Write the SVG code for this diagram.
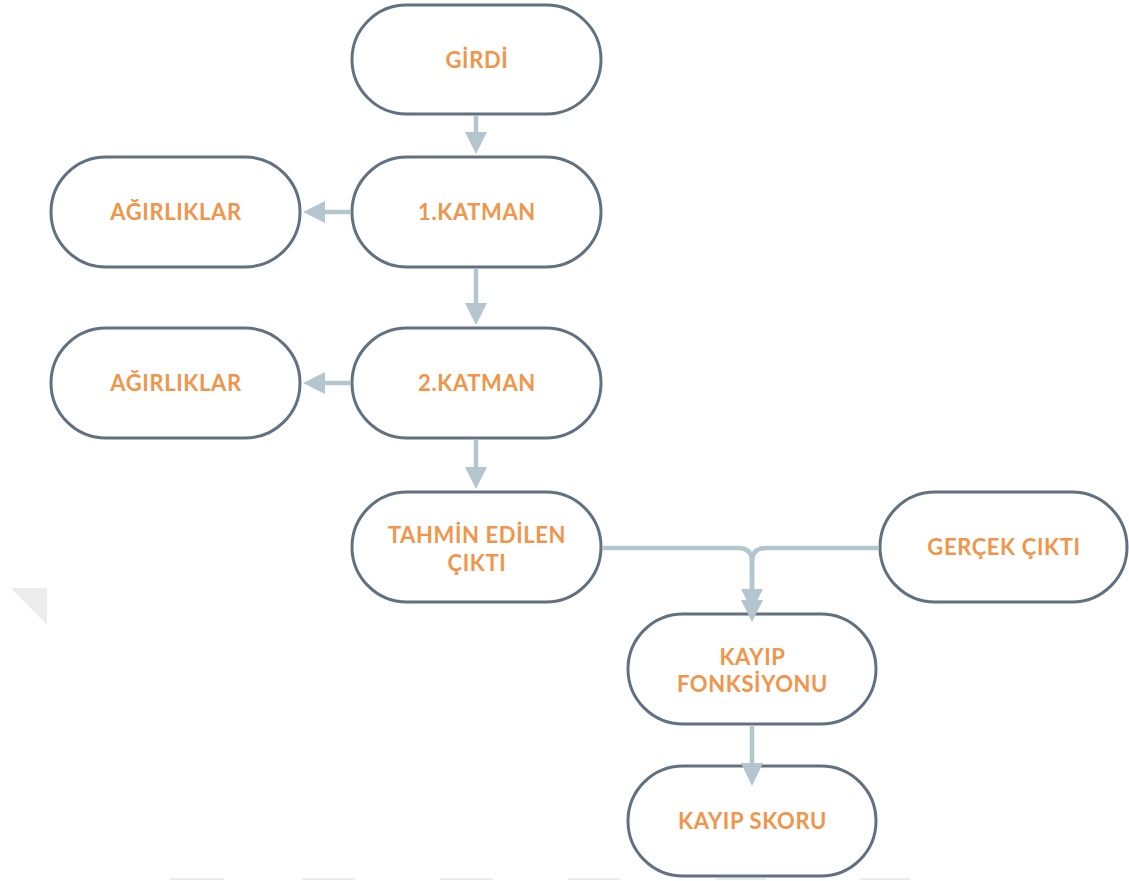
<svg xmlns="http://www.w3.org/2000/svg" width="1129" height="881" viewBox="0 0 1129 881">
  <style>
    .node rect { fill: #ffffff; stroke: #62717f; stroke-width: 3; }
    .node text { font-family: Lato, "Liberation Sans", sans-serif; font-weight: bold; font-size: 22px; letter-spacing: 0.6px; fill: #f0954a; text-anchor: middle; }
    .conn { fill: none; stroke: #b3c6cd; stroke-width: 4.5; }
    .head { fill: #b3c6cd; }
  </style>
  <rect width="1129" height="881" fill="#ffffff"/>
  <!-- faint page marks -->
  <polygon points="11,588 47,588 47,625" fill="#ececec"/>
  <g stroke="#ececec" stroke-width="2">
    <line x1="170" y1="879" x2="224" y2="879"/>
    <line x1="302" y1="879" x2="355" y2="879"/>
    <line x1="440" y1="879" x2="493" y2="879"/>
    <line x1="568" y1="879" x2="620" y2="879"/>
    <line x1="716" y1="879" x2="766" y2="879"/>
    <line x1="860" y1="879" x2="910" y2="879"/>
  </g>

  <g id="n-girdi" class="node">
    <rect x="352" y="5" width="249" height="109" rx="54.5"/>
    <text x="477" y="68">GİRDİ</text>
  </g>
  <g id="n-katman1" class="node">
    <rect x="352" y="157" width="249" height="110" rx="55"/>
    <text x="477" y="220">1.KATMAN</text>
  </g>
  <g id="n-agirliklar1" class="node">
    <rect x="51" y="157" width="249" height="110" rx="55"/>
    <text x="176" y="220">AĞIRLIKLAR</text>
  </g>
  <g id="n-katman2" class="node">
    <rect x="352" y="328" width="249" height="110" rx="55"/>
    <text x="477" y="391">2.KATMAN</text>
  </g>
  <g id="n-agirliklar2" class="node">
    <rect x="51" y="328" width="249" height="110" rx="55"/>
    <text x="176" y="391">AĞIRLIKLAR</text>
  </g>
  <g id="n-tahmin" class="node">
    <rect x="352" y="492" width="249" height="110" rx="55"/>
    <text x="477" y="543">TAHMİN EDİLEN</text>
    <text x="477" y="571">ÇIKTI</text>
  </g>
  <g id="n-gercek" class="node">
    <rect x="880" y="492" width="247" height="110" rx="55"/>
    <text x="1004" y="555">GERÇEK ÇIKTI</text>
  </g>
  <g id="n-kayip-fonk" class="node">
    <rect x="628" y="614" width="248" height="110" rx="55"/>
    <text x="752.5" y="665">KAYIP</text>
    <text x="752.5" y="692">FONKSİYONU</text>
  </g>
  <g id="n-kayip-skor" class="node">
    <rect x="628" y="766" width="248" height="110" rx="55"/>
    <text x="752.5" y="829">KAYIP SKORU</text>
  </g>

  <g id="connectors">
    <!-- GİRDİ -> 1.KATMAN -->
    <line class="conn" x1="476" y1="115.5" x2="476" y2="135"/>
    <polygon class="head" points="465,132 487,132 476,154"/>
    <!-- 1.KATMAN -> AĞIRLIKLAR -->
    <line class="conn" x1="350.5" y1="212" x2="322" y2="212"/>
    <polygon class="head" points="325,201 325,223 303,212"/>
    <!-- 1.KATMAN -> 2.KATMAN -->
    <line class="conn" x1="476" y1="268.5" x2="476" y2="306"/>
    <polygon class="head" points="465,303 487,303 476,325"/>
    <!-- 2.KATMAN -> AĞIRLIKLAR -->
    <line class="conn" x1="350.5" y1="383" x2="322" y2="383"/>
    <polygon class="head" points="325,372 325,394 303,383"/>
    <!-- 2.KATMAN -> TAHMİN EDİLEN ÇIKTI -->
    <line class="conn" x1="476" y1="439.5" x2="476" y2="470"/>
    <polygon class="head" points="465,467 487,467 476,489"/>
    <!-- TAHMİN EDİLEN ÇIKTI -> KAYIP FONKSİYONU -->
    <path class="conn" d="M602.5,548 H738 Q752,548 752,562 V592"/>
    <polygon class="head" points="741,589 763,589 752,611"/>
    <!-- GERÇEK ÇIKTI -> KAYIP FONKSİYONU -->
    <path class="conn" d="M878.5,548 H766 Q752,548 752,562 V603"/>
    <polygon class="head" points="741,600 763,600 752,622"/>
    <!-- KAYIP FONKSİYONU -> KAYIP SKORU -->
    <line class="conn" x1="752" y1="725.5" x2="752" y2="766"/>
    <polygon class="head" points="741,763 763,763 752,786"/>
  </g>
</svg>
